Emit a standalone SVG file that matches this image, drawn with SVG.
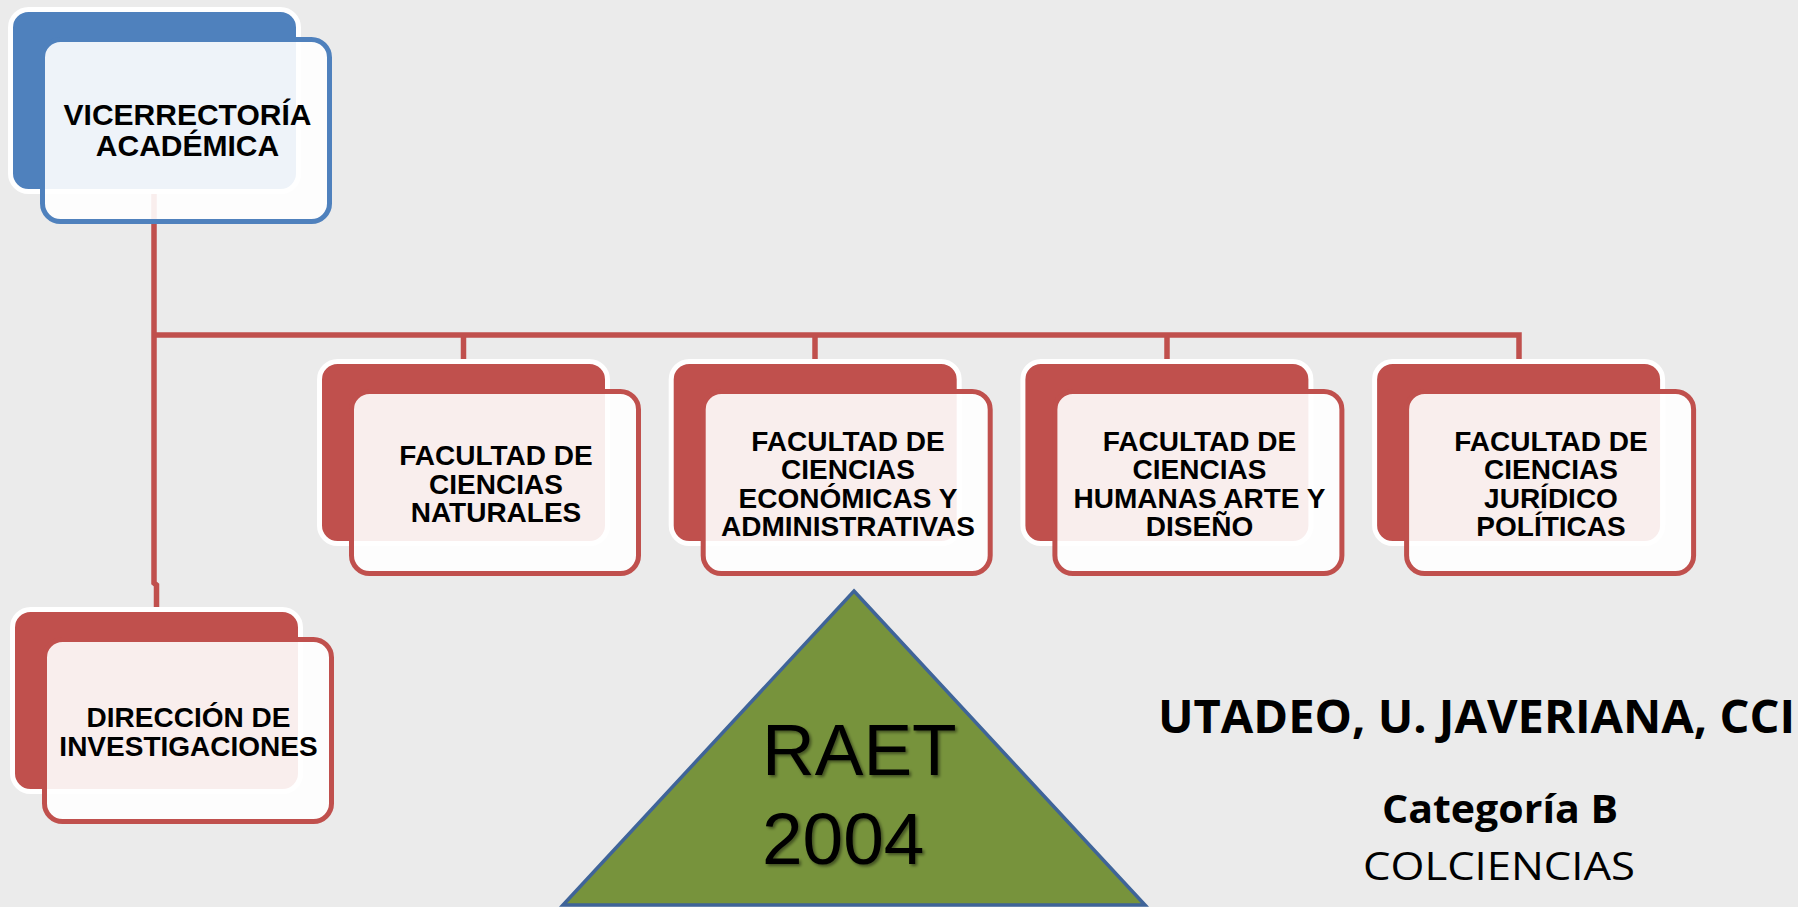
<svg xmlns="http://www.w3.org/2000/svg" width="1798" height="907" viewBox="0 0 1798 907">
<defs>
<style>
.bg{fill:#EBEBEB}
.backR{fill:#C0504D;stroke:#FFFFFF;stroke-width:5}
.backB{fill:#4F81BD;stroke:#FFFFFF;stroke-width:5}
.frontR{fill:#FFFFFF;fill-opacity:0.9;stroke:#C0504D;stroke-width:5}
.frontB{fill:#FFFFFF;fill-opacity:0.9;stroke:#4F81BD;stroke-width:5}
.conn{fill:none;stroke:#C0504D;stroke-width:5.5}
.lbl{font-family:"Liberation Sans",Arial,sans-serif;font-weight:bold;font-size:28px;fill:#000;text-anchor:middle}
.big{font-family:"Liberation Sans",Arial,sans-serif;font-size:73px;fill:#000}
.side{font-family:"Open Sans","Noto Sans",sans-serif;fill:#000}
</style>
<filter id="shadow" x="-10%" y="-10%" width="130%" height="130%">
<feDropShadow dx="2" dy="2" stdDeviation="1.5" flood-color="#000" flood-opacity="0.45"/>
</filter>
</defs>
<rect class="bg" x="0" y="0" width="1798" height="907"/>

<g id="connectors">
<path class="conn" d="M154,194 V583 L156.5,585 V608"/>
<path class="conn" d="M154,335 H1519 V360"/>
<path class="conn" d="M463.5,335 V360"/>
<path class="conn" d="M815,335 V360"/>
<path class="conn" d="M1167,335 V360"/>
</g>

<g id="vicerrectoria">
<rect class="backB" x="10.5" y="9.5" width="288" height="182" rx="18"/>
<rect class="frontB" x="42.5" y="39.5" width="287" height="182" rx="18"/>
<text class="lbl" style="font-size:30px" x="187.5" y="125">VICERRECTORÍA</text>
<text class="lbl" style="font-size:30px" x="187.5" y="156">ACADÉMICA</text>
</g>

<g id="fac-naturales">
<rect class="backR" x="319.5" y="361.5" width="288" height="182" rx="18"/>
<rect class="frontR" x="351.5" y="391.5" width="287" height="182" rx="18"/>
<text class="lbl" x="496" y="465">FACULTAD DE</text>
<text class="lbl" x="496" y="493.5">CIENCIAS</text>
<text class="lbl" x="496" y="522">NATURALES</text>
</g>

<g id="fac-economicas">
<rect class="backR" x="671.2" y="361.5" width="288" height="182" rx="18"/>
<rect class="frontR" x="703.2" y="391.5" width="287" height="182" rx="18"/>
<text class="lbl" x="848" y="450.5">FACULTAD DE</text>
<text class="lbl" x="848" y="479">CIENCIAS</text>
<text class="lbl" x="848" y="507.5">ECONÓMICAS Y</text>
<text class="lbl" x="848" y="536">ADMINISTRATIVAS</text>
</g>

<g id="fac-humanas">
<rect class="backR" x="1022.9" y="361.5" width="288" height="182" rx="18"/>
<rect class="frontR" x="1054.9" y="391.5" width="287" height="182" rx="18"/>
<text class="lbl" x="1199.5" y="450.5">FACULTAD DE</text>
<text class="lbl" x="1199.5" y="479">CIENCIAS</text>
<text class="lbl" x="1199.5" y="507.5">HUMANAS ARTE Y</text>
<text class="lbl" x="1199.5" y="536">DISEÑO</text>
</g>

<g id="fac-juridico">
<rect class="backR" x="1374.6" y="361.5" width="288" height="182" rx="18"/>
<rect class="frontR" x="1406.6" y="391.5" width="287" height="182" rx="18"/>
<text class="lbl" x="1551" y="450.5">FACULTAD DE</text>
<text class="lbl" x="1551" y="479">CIENCIAS</text>
<text class="lbl" x="1551" y="507.5">JURÍDICO</text>
<text class="lbl" x="1551" y="536">POLÍTICAS</text>
</g>

<g id="direccion">
<rect class="backR" x="12.5" y="609.5" width="288" height="182" rx="18"/>
<rect class="frontR" x="44.5" y="639.5" width="287" height="182" rx="18"/>
<text class="lbl" x="188.5" y="727">DIRECCIÓN DE</text>
<text class="lbl" x="188.5" y="756">INVESTIGACIONES</text>
</g>

<g id="raet">
<polygon points="854,591 1145,905 563,905" fill="#77933C" stroke="#3F6499" stroke-width="3.5" stroke-linejoin="miter"/>
<text class="big" x="762" y="775" filter="url(#shadow)">RAET</text>
<text class="big" x="762" y="864" filter="url(#shadow)">2004</text>
</g>

<g id="institutions">
<text class="side" x="1158" y="733" font-size="47" font-weight="bold" textLength="637" lengthAdjust="spacingAndGlyphs">UTADEO, U. JAVERIANA, CCI</text>
<text class="side" x="1382" y="823" font-size="39" font-weight="bold" textLength="236" lengthAdjust="spacingAndGlyphs">Categoría B</text>
<text class="side" x="1363" y="880" font-size="39" textLength="272" lengthAdjust="spacingAndGlyphs">COLCIENCIAS</text>
</g>
</svg>
